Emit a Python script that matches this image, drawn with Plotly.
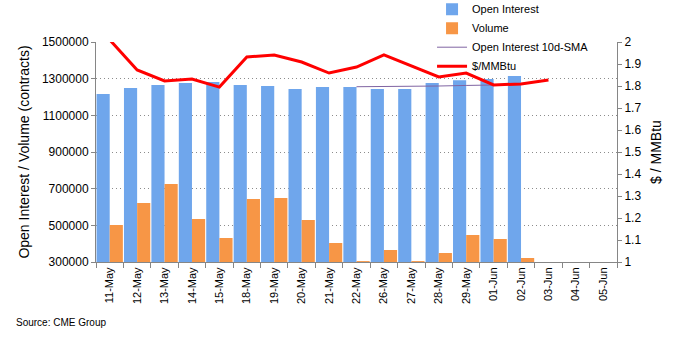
import plotly.graph_objects as go

dates = ["11-May", "12-May", "13-May", "14-May", "15-May", "18-May", "19-May", "20-May",
         "21-May", "22-May", "26-May", "27-May", "28-May", "29-May", "01-Jun", "02-Jun",
         "03-Jun", "04-Jun", "05-Jun"]
open_interest = [1216000, 1249000, 1265000, 1276000, 1282000, 1265000, 1260000, 1244000,
                 1255000, 1255000, 1244000, 1244000, 1276000, 1292000, 1298000, 1314000,
                 None, None, None]
volume = [502000, 622000, 725000, 535000, 431000, 644000, 649000, 529000,
          404000, 305000, 365000, 305000, 349000, 447000, 425000, 322000,
          None, None, None]
oi_sma = [None, None, None, None, None, None, None, None,
          None, 1256000, 1256000, 1257000, 1260000, 1263000, 1265000, 1268000,
          None, None, None]
price = [2.01, 1.873, 1.823, 1.832, 1.795, 1.932, 1.941, 1.909,
         1.859, 1.886, 1.941, 1.891, 1.841, 1.859, 1.805, 1.809,
         1.827, None, None]

FONT = "Liberation Sans, Arial, sans-serif"

fig = go.Figure()
fig.add_trace(go.Bar(x=dates, y=open_interest, name="Open Interest",
                     marker=dict(color="#6fa6ec", line=dict(width=0))))
fig.add_trace(go.Bar(x=dates, y=volume, name="Volume",
                     marker=dict(color="#f79646", line=dict(width=0))))
fig.add_trace(go.Scatter(x=dates, y=oi_sma, name="Open Interest 10d-SMA", mode="lines",
                         line=dict(color="#8064a2", width=1)))
fig.add_trace(go.Scatter(x=dates, y=price, name="$/MMBtu", mode="lines", yaxis="y2",
                         line=dict(color="#ff0000", width=3)))

fig.update_layout(
    width=677, height=342,
    margin=dict(l=96, r=60, t=42, b=80, autoexpand=False),
    paper_bgcolor="white", plot_bgcolor="white",
    font=dict(family=FONT, size=12, color="black"),
    barmode="group", bargap=0.04, bargroupgap=0.0,
    showlegend=True,
    legend=dict(x=0.645, y=1.215, xanchor="left", yanchor="top",
                bgcolor="rgba(0,0,0,0)", font=dict(size=11, family=FONT),
                tracegroupgap=0, itemwidth=30),
    xaxis=dict(type="category", tickangle=-90, tickfont=dict(size=11),
               showline=True, linecolor="#868686", linewidth=1,
               ticks="outside", tickson="boundaries", ticklen=5, tickcolor="#868686",
               showgrid=False),
    yaxis=dict(range=[300000, 1500000], tick0=300000, dtick=200000, tickformat="d",
               title=dict(text="Open Interest / Volume (contracts)", font=dict(size=14), standoff=8),
               showline=True, linecolor="#868686", linewidth=1,
               ticks="outside", ticklen=4, tickcolor="#868686",
               showgrid=True, gridcolor="#8c8c8c", griddash="1px,3px", gridwidth=1,
               zeroline=False),
    yaxis2=dict(range=[1, 2], dtick=0.1, overlaying="y", side="right",
                title=dict(text="$ / MMBtu", font=dict(size=14), standoff=10),
                showline=True, linecolor="#868686", linewidth=1,
                ticks="outside", ticklen=4, tickcolor="#868686",
                showgrid=False, zeroline=False),
    annotations=[dict(text="Source: CME Group", xref="paper", yref="paper",
                      x=-0.157, y=-0.277, xanchor="left", yanchor="middle",
                      showarrow=False, font=dict(size=10, family=FONT))],
)

fig.write_html("out.html")
